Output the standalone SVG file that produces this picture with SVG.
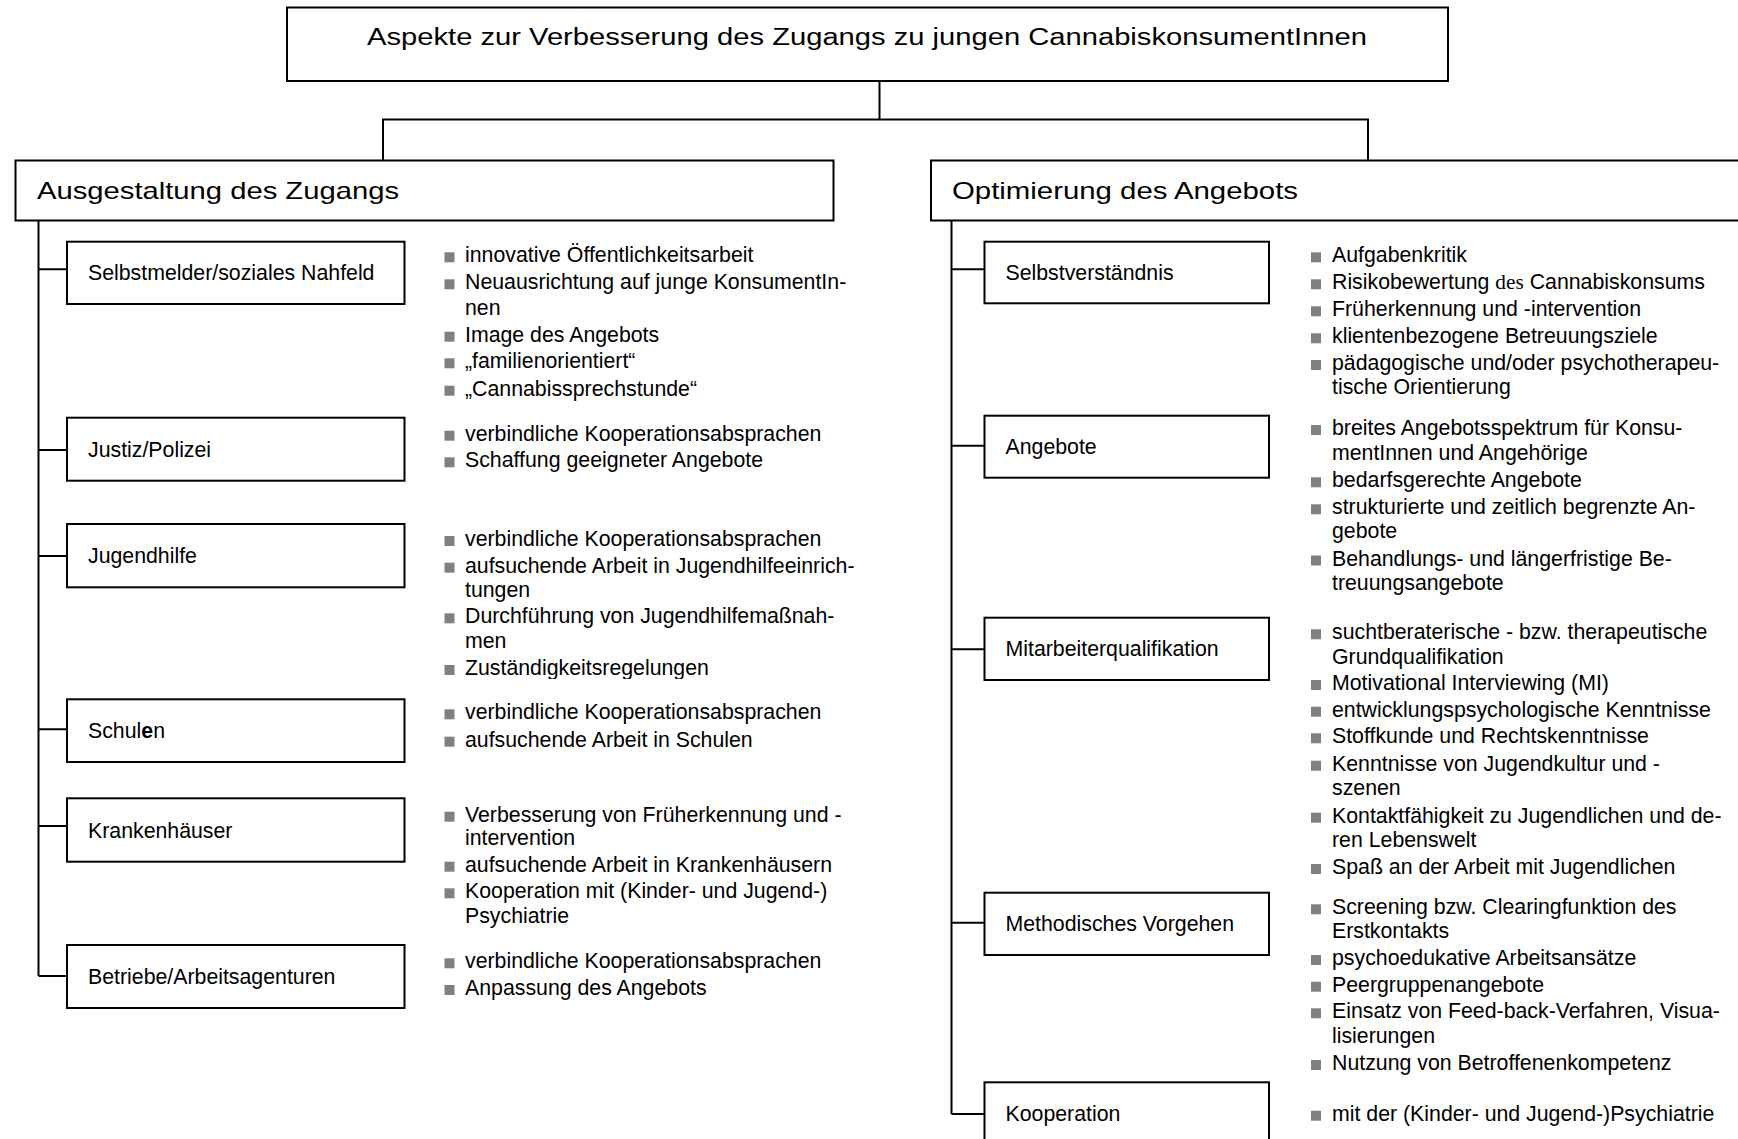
<svg xmlns="http://www.w3.org/2000/svg" xmlns:xlink="http://www.w3.org/1999/xlink" width="1738" height="1139" viewBox="0 0 1738 1139">
<style>
.box{fill:#fff;stroke:#000;stroke-width:2}
.con{fill:none;stroke:#000;stroke-width:2}
text{font-family:"Liberation Sans",Arial,sans-serif;font-size:21.3px;fill:#000}
.hdr{font-size:24px}
.ttl{font-size:23px}
.ser{font-family:"Liberation Serif","Times New Roman",serif}
</style>
<defs>
<rect id="sq" width="10" height="10" fill="#808080"/>
<clipPath id="clipZ"><rect x="430" y="600" width="420" height="79"/></clipPath>
</defs>
<rect width="1738" height="1139" fill="#fff"/>

<g id="connectors">
<path class="con" d="M879.5 81 V119.5 M383 160.5 V119.5 H1368 V160.5"/>
<path class="con" d="M38.5 220.5 V976 M38.5 269.3 H67 M38.5 450 H67 M38.5 556 H67 M38.5 729.3 H67 M38.5 826 H67 M38.5 976 H67"/>
<path class="con" d="M951.5 220.5 V1114 M951.5 269.3 H984.5 M951.5 445.7 H984.5 M951.5 649.3 H984.5 M951.5 922.7 H984.5 M951.5 1114 H984.5"/>
</g>

<g id="root">
<rect class="box" x="287" y="7.5" width="1161" height="73.5"/>
<text class="ttl" x="367" y="45" textLength="1000" lengthAdjust="spacingAndGlyphs">Aspekte zur Verbesserung des Zugangs zu jungen CannabiskonsumentInnen</text>
</g>

<g id="ausgestaltung">
<rect class="box" x="15.5" y="160.5" width="818" height="60"/>
<text class="hdr" x="37" y="199" textLength="362" lengthAdjust="spacingAndGlyphs">Ausgestaltung des Zugangs</text>
</g>

<g id="optimierung">
<rect class="box" x="931" y="160.5" width="818" height="60"/>
<text class="hdr" x="952" y="199" textLength="346" lengthAdjust="spacingAndGlyphs">Optimierung des Angebots</text>
</g>

<g id="selbstmelder">
<rect class="box" x="67" y="241.7" width="337.5" height="62.3"/>
<text x="88" y="280">Selbstmelder/soziales Nahfeld</text>
<use href="#sq" x="444.5" y="252.3"/><text x="465" y="262.3">innovative Öffentlichkeitsarbeit</text>
<use href="#sq" x="444.5" y="279.3"/><text x="465" y="289.3">Neuausrichtung auf junge KonsumentIn-</text>
<text x="465" y="315">nen</text>
<use href="#sq" x="444.5" y="331.7"/><text x="465" y="341.7">Image des Angebots</text>
<use href="#sq" x="444.5" y="358.3"/><text x="465" y="368.3">„familienorientiert“</text>
<use href="#sq" x="444.5" y="385.7"/><text x="465" y="395.7">„Cannabissprechstunde“</text>
</g>

<g id="justiz">
<rect class="box" x="67" y="417.7" width="337.5" height="63"/>
<text x="88" y="456.7">Justiz/Polizei</text>
<use href="#sq" x="444.5" y="430.7"/><text x="465" y="440.7">verbindliche Kooperationsabsprachen</text>
<use href="#sq" x="444.5" y="457.3"/><text x="465" y="467.3">Schaffung geeigneter Angebote</text>
</g>

<g id="jugendhilfe">
<rect class="box" x="67" y="524" width="337.5" height="63.3"/>
<text x="88" y="563.2">Jugendhilfe</text>
<use href="#sq" x="444.5" y="536"/><text x="465" y="546">verbindliche Kooperationsabsprachen</text>
<use href="#sq" x="444.5" y="562.7"/><text x="465" y="572.7">aufsuchende Arbeit in Jugendhilfeeinrich-</text>
<text x="465" y="596.7">tungen</text>
<use href="#sq" x="444.5" y="613.3"/><text x="465" y="623.3">Durchführung von Jugendhilfemaßnah-</text>
<text x="465" y="648.3">men</text>
<g clip-path="url(#clipZ)"><use href="#sq" x="444.5" y="665"/><text x="465" y="675">Zuständigkeitsregelungen</text></g>
</g>

<g id="schulen">
<rect class="box" x="67" y="699.3" width="337.5" height="62.7"/>
<text x="88" y="738.2">Schul<tspan font-weight="bold">e</tspan>n</text>
<use href="#sq" x="444.5" y="709.3"/><text x="465" y="719.3">verbindliche Kooperationsabsprachen</text>
<use href="#sq" x="444.5" y="736.7"/><text x="465" y="746.7">aufsuchende Arbeit in Schulen</text>
</g>

<g id="krankenhaeuser">
<rect class="box" x="67" y="798.3" width="337.5" height="63.4"/>
<text x="88" y="837.5">Krankenhäuser</text>
<use href="#sq" x="444.5" y="811.7"/><text x="465" y="821.7">Verbesserung von Früherkennung und -</text>
<text x="465" y="845">intervention</text>
<use href="#sq" x="444.5" y="861.7"/><text x="465" y="871.7">aufsuchende Arbeit in Krankenhäusern</text>
<use href="#sq" x="444.5" y="888.3"/><text x="465" y="898.3">Kooperation mit (Kinder- und Jugend-)</text>
<text x="465" y="922.7">Psychiatrie</text>
</g>

<g id="betriebe">
<rect class="box" x="67" y="945" width="337.5" height="63"/>
<text x="88" y="984">Betriebe/Arbeitsagenturen</text>
<use href="#sq" x="444.5" y="958.3"/><text x="465" y="968.3">verbindliche Kooperationsabsprachen</text>
<use href="#sq" x="444.5" y="985"/><text x="465" y="995">Anpassung des Angebots</text>
</g>

<g id="selbstverstaendnis">
<rect class="box" x="984.5" y="241.7" width="284.5" height="61.6"/>
<text x="1005.5" y="280">Selbstverständnis</text>
<use href="#sq" x="1311" y="252.3"/><text x="1332" y="262.3">Aufgabenkritik</text>
<use href="#sq" x="1311" y="279.3"/><text x="1332" y="289.3">Risikobewertung <tspan class="ser">des</tspan> Cannabiskonsums</text>
<use href="#sq" x="1311" y="306.3"/><text x="1332" y="316.3">Früherkennung und -intervention</text>
<use href="#sq" x="1311" y="333.3"/><text x="1332" y="343.3">klientenbezogene Betreuungsziele</text>
<use href="#sq" x="1311" y="360"/><text x="1332" y="370">pädagogische und/oder psychotherapeu-</text>
<text x="1332" y="394.3">tische Orientierung</text>
</g>

<g id="angebote">
<rect class="box" x="984.5" y="415.7" width="284.5" height="62"/>
<text x="1005.5" y="454.2">Angebote</text>
<use href="#sq" x="1311" y="425"/><text x="1332" y="435">breites Angebotsspektrum für Konsu-</text>
<text x="1332" y="460">mentInnen und Angehörige</text>
<use href="#sq" x="1311" y="477.3"/><text x="1332" y="487.3">bedarfsgerechte Angebote</text>
<use href="#sq" x="1311" y="504.3"/><text x="1332" y="514.3">strukturierte und zeitlich begrenzte An-</text>
<text x="1332" y="538.3">gebote</text>
<use href="#sq" x="1311" y="555.5"/><text x="1332" y="565.5">Behandlungs- und längerfristige Be-</text>
<text x="1332" y="590">treuungsangebote</text>
</g>

<g id="mitarbeiterqualifikation">
<rect class="box" x="984.5" y="617.7" width="284.5" height="62.3"/>
<text x="1005.5" y="656.3">Mitarbeiterqualifikation</text>
<use href="#sq" x="1311" y="629.3"/><text x="1332" y="639.3">suchtberaterische - bzw. therapeutische</text>
<text x="1332" y="664">Grundqualifikation</text>
<use href="#sq" x="1311" y="680"/><text x="1332" y="690">Motivational Interviewing (MI)</text>
<use href="#sq" x="1311" y="706.7"/><text x="1332" y="716.7">entwicklungspsychologische Kenntnisse</text>
<use href="#sq" x="1311" y="733.3"/><text x="1332" y="743.3">Stoffkunde und Rechtskenntnisse</text>
<use href="#sq" x="1311" y="760.7"/><text x="1332" y="770.7">Kenntnisse von Jugendkultur und -</text>
<text x="1332" y="795">szenen</text>
<use href="#sq" x="1311" y="812.7"/><text x="1332" y="822.7">Kontaktfähigkeit zu Jugendlichen und de-</text>
<text x="1332" y="846.7">ren Lebenswelt</text>
<use href="#sq" x="1311" y="864"/><text x="1332" y="874">Spaß an der Arbeit mit Jugendlichen</text>
</g>

<g id="methodisches-vorgehen">
<rect class="box" x="984.5" y="892.7" width="284.5" height="62.3"/>
<text x="1005.5" y="931.3">Methodisches Vorgehen</text>
<use href="#sq" x="1311" y="904.3"/><text x="1332" y="914.3">Screening bzw. Clearingfunktion des</text>
<text x="1332" y="938.3">Erstkontakts</text>
<use href="#sq" x="1311" y="955"/><text x="1332" y="965">psychoedukative Arbeitsansätze</text>
<use href="#sq" x="1311" y="981.7"/><text x="1332" y="991.7">Peergruppenangebote</text>
<use href="#sq" x="1311" y="1008.3"/><text x="1332" y="1018.3">Einsatz von Feed-back-Verfahren, Visua-</text>
<text x="1332" y="1043.3">lisierungen</text>
<use href="#sq" x="1311" y="1060"/><text x="1332" y="1070">Nutzung von Betroffenenkompetenz</text>
</g>

<g id="kooperation">
<rect class="box" x="984.5" y="1082.3" width="284.5" height="63"/>
<text x="1005.5" y="1121.2">Kooperation</text>
<use href="#sq" x="1311" y="1110.7"/><text x="1332" y="1120.7">mit der (Kinder- und Jugend-)Psychiatrie</text>
</g>
</svg>
